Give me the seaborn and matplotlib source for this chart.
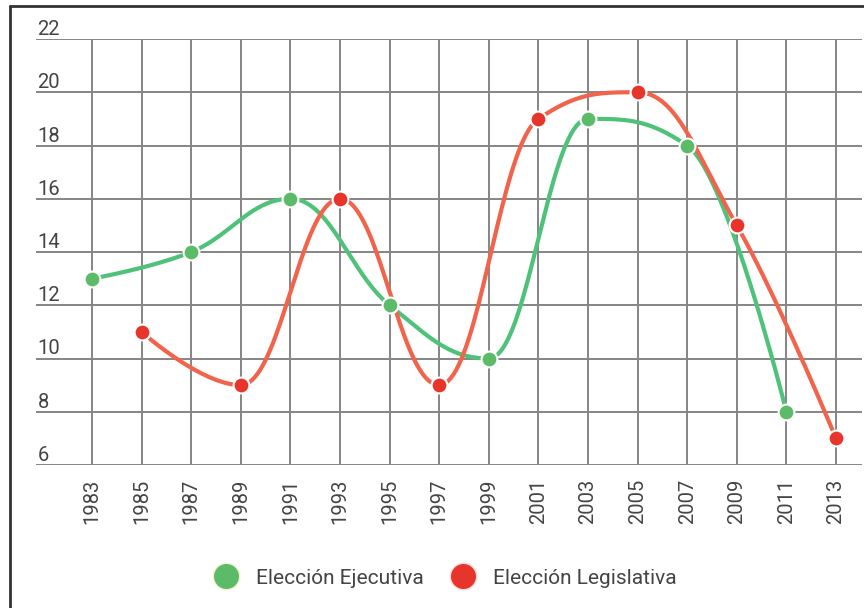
import numpy as np
import pandas as pd
import matplotlib
matplotlib.use("Agg")
import matplotlib.pyplot as plt
from matplotlib.lines import Line2D
import seaborn as sns

# data
years_ejecutiva = [1983, 1987, 1991, 1995, 1999, 2003, 2007, 2011]
vals_ejecutiva = [13, 14, 16, 12, 10, 19, 18, 8]
years_legislativa = [1985, 1989, 1993, 1997, 2001, 2005, 2009, 2013]
vals_legislativa = [11, 9, 16, 9, 19, 20, 15, 7]
year_ticks = list(range(1983, 2014, 2))
y_ticks = list(range(6, 23, 2))
labels = ["Elección Ejecutiva", "Elección Legislativa"]

GREEN_LINE = "#4fc27a"
GREEN_DOT = "#5cbb68"
RED_LINE = "#f2634b"
RED_DOT = "#e8352b"

sns.set_theme(style="white")
plt.rcParams["font.family"] = ["Roboto", "DejaVu Sans"]


def spline_path(xs, ys, smoothing=1.5, n=40):
    # highcharts-style spline through the given points
    xs = np.asarray(xs, float)
    ys = np.asarray(ys, float)
    k = len(xs)
    left = [(xs[i], ys[i]) for i in range(k)]
    right = [(xs[i], ys[i]) for i in range(k)]
    d = smoothing + 1
    for i in range(1, k - 1):
        px, py = xs[i], ys[i]
        lx, ly = xs[i - 1], ys[i - 1]
        nx, ny = xs[i + 1], ys[i + 1]
        lcx, lcy = (smoothing * px + lx) / d, (smoothing * py + ly) / d
        rcx, rcy = (smoothing * px + nx) / d, (smoothing * py + ny) / d
        if rcx != lcx:
            corr = (rcy - lcy) * (rcx - px) / (rcx - lcx) + py - rcy
            lcy += corr
            rcy += corr
        if lcy > ly and lcy > py:
            lcy = max(ly, py)
            rcy = 2 * py - lcy
        elif lcy < ly and lcy < py:
            lcy = min(ly, py)
            rcy = 2 * py - lcy
        if rcy > ny and rcy > py:
            rcy = max(ny, py)
            lcy = 2 * py - rcy
        elif rcy < ny and rcy < py:
            rcy = min(ny, py)
            lcy = 2 * py - rcy
        left[i] = (lcx, lcy)
        right[i] = (rcx, rcy)
    t = np.linspace(0, 1, n)[:, None]
    segs = []
    for i in range(1, k):
        p0 = np.array([xs[i - 1], ys[i - 1]])
        p1 = np.array(right[i - 1])
        p2 = np.array(left[i])
        p3 = np.array([xs[i], ys[i]])
        b = ((1 - t) ** 3) * p0 + 3 * ((1 - t) ** 2) * t * p1 + 3 * (1 - t) * t ** 2 * p2 + t ** 3 * p3
        segs.append(b if i == 1 else b[1:])
    pts = np.vstack(segs)
    return pts[:, 0], pts[:, 1]


df_e = pd.DataFrame({"year": years_ejecutiva, "value": vals_ejecutiva})
df_l = pd.DataFrame({"year": years_legislativa, "value": vals_legislativa})

fig = plt.figure(figsize=(8.64, 6.08), dpi=100)
ax = fig.add_axes([36 / 864, 1 - 465 / 608, (862 - 36) / 864, (465 - 39) / 608])

for df, lc, dc in [(df_e, GREEN_LINE, GREEN_DOT), (df_l, RED_LINE, RED_DOT)]:
    sx, sy = spline_path(df["year"], df["value"])
    ax.plot(sx, sy, color=lc, lw=3, solid_capstyle="round", zorder=3)
    sns.scatterplot(data=df, x="year", y="value", color=dc, s=130,
                    edgecolor="white", linewidth=1.5, zorder=4, ax=ax, legend=False)

ax.set_xlim(1980.74, 2014.05)
ax.set_ylim(6, 22)
ax.set_xticks(year_ticks)
ax.set_xticklabels([str(y) for y in year_ticks], rotation=90, fontsize=14.5, color="#444444")
ax.set_yticks(y_ticks)
ax.set_yticklabels([str(v) for v in y_ticks], fontsize=14.5, color="#444444",
                   ha="left", va="bottom")
ax.tick_params(axis="y", length=0, pad=-1, labelsize=14.5)
ax.tick_params(axis="x", length=0, pad=10)
for lab in ax.get_yticklabels():
    lab.set_y(lab.get_position()[1])
ax.grid(True, color="#858585", lw=1.4, zorder=0)
ax.set_axisbelow(True)
for s in ax.spines.values():
    s.set_visible(False)
ax.set_xlabel("")
ax.set_ylabel("")

handles = [
    Line2D([], [], marker="o", ls="", markersize=19, color=GREEN_DOT, markeredgecolor="#f5f5d0", markeredgewidth=1),
    Line2D([], [], marker="o", ls="", markersize=19, color=RED_DOT, markeredgecolor="#ffe0d8", markeredgewidth=1),
]
fig.legend(handles, labels, loc="center", bbox_to_anchor=(441 / 864, 1 - 578 / 608),
           ncol=2, frameon=False, fontsize=15, handletextpad=0.45, columnspacing=0.9,
           labelcolor="#444444")

# frame around the figure (left and top edges visible)
fig.add_artist(Line2D([10 / 864, 10 / 864], [0, 1 - 6 / 608], transform=fig.transFigure, color="#333333", lw=2))
fig.add_artist(Line2D([10 / 864, 1], [1 - 6 / 608, 1 - 6 / 608], transform=fig.transFigure, color="#333333", lw=2))

fig.savefig("out.png", dpi=100)
